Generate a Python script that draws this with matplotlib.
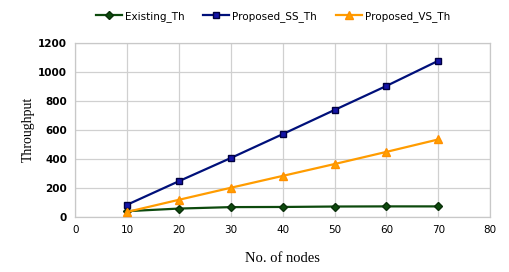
import matplotlib
matplotlib.use("Agg")
import matplotlib.pyplot as plt

nodes = [10, 20, 30, 40, 50, 60, 70]
existing_th = [37, 55, 65, 66, 69, 70, 70]
proposed_ss_th = [82, 245, 405, 570, 737, 903, 1077]
proposed_vs_th = [32, 116, 199, 281, 363, 447, 533]
x_ticks = [0, 10, 20, 30, 40, 50, 60, 70, 80]
y_ticks = [0, 200, 400, 600, 800, 1000, 1200]

fig = plt.figure(figsize=(5.1, 2.72), dpi=100)
ax = fig.add_axes([0.148, 0.204, 0.813, 0.638])

ax.plot(nodes, existing_th, color="#0d4a0d", lw=1.6, marker="D", ms=4,
        mfc="#0d4a0d", mec="#0a300a", label="Existing_Th", zorder=3)
ax.plot(nodes, proposed_ss_th, color="#00107a", lw=1.6, marker="s", ms=5,
        mfc="#1414a8", mec="#000040", label="Proposed_SS_Th", zorder=3)
ax.plot(nodes, proposed_vs_th, color="#ff9c00", lw=1.6, marker="^", ms=6,
        mfc="#ffa000", mec="#ff9000", label="Proposed_VS_Th", zorder=3)

ax.set_xlim(0, 80)
ax.set_ylim(0, 1200)
ax.set_xticks(x_ticks)
ax.set_yticks(y_ticks)
ax.grid(True, color="#d0d0d0", lw=0.9)
ax.set_axisbelow(True)
for s in ax.spines.values():
    s.set_color("#c8c8c8")
    s.set_linewidth(0.9)
ax.tick_params(length=0, pad=6)
for lab in ax.get_yticklabels():
    lab.set_fontfamily("DejaVu Sans")
    lab.set_fontweight("bold")
    lab.set_fontsize(7.5)
for lab in ax.get_xticklabels():
    lab.set_fontfamily("DejaVu Sans")
    lab.set_fontsize(7.5)

ax.set_xlabel("No. of nodes", family="Liberation Serif", fontsize=10.5, labelpad=12)
ax.set_ylabel("Throughput", family="Liberation Serif", fontsize=10)
ax.yaxis.set_label_coords(-0.097, 0.5)

fig.legend(loc="upper center", bbox_to_anchor=(0.535, 0.995), ncol=3, frameon=False,
           prop={"family": "DejaVu Sans", "size": 7.5}, handlelength=2.5,
           columnspacing=1.8, handletextpad=0.3)

fig.savefig("out.png", dpi=100)
